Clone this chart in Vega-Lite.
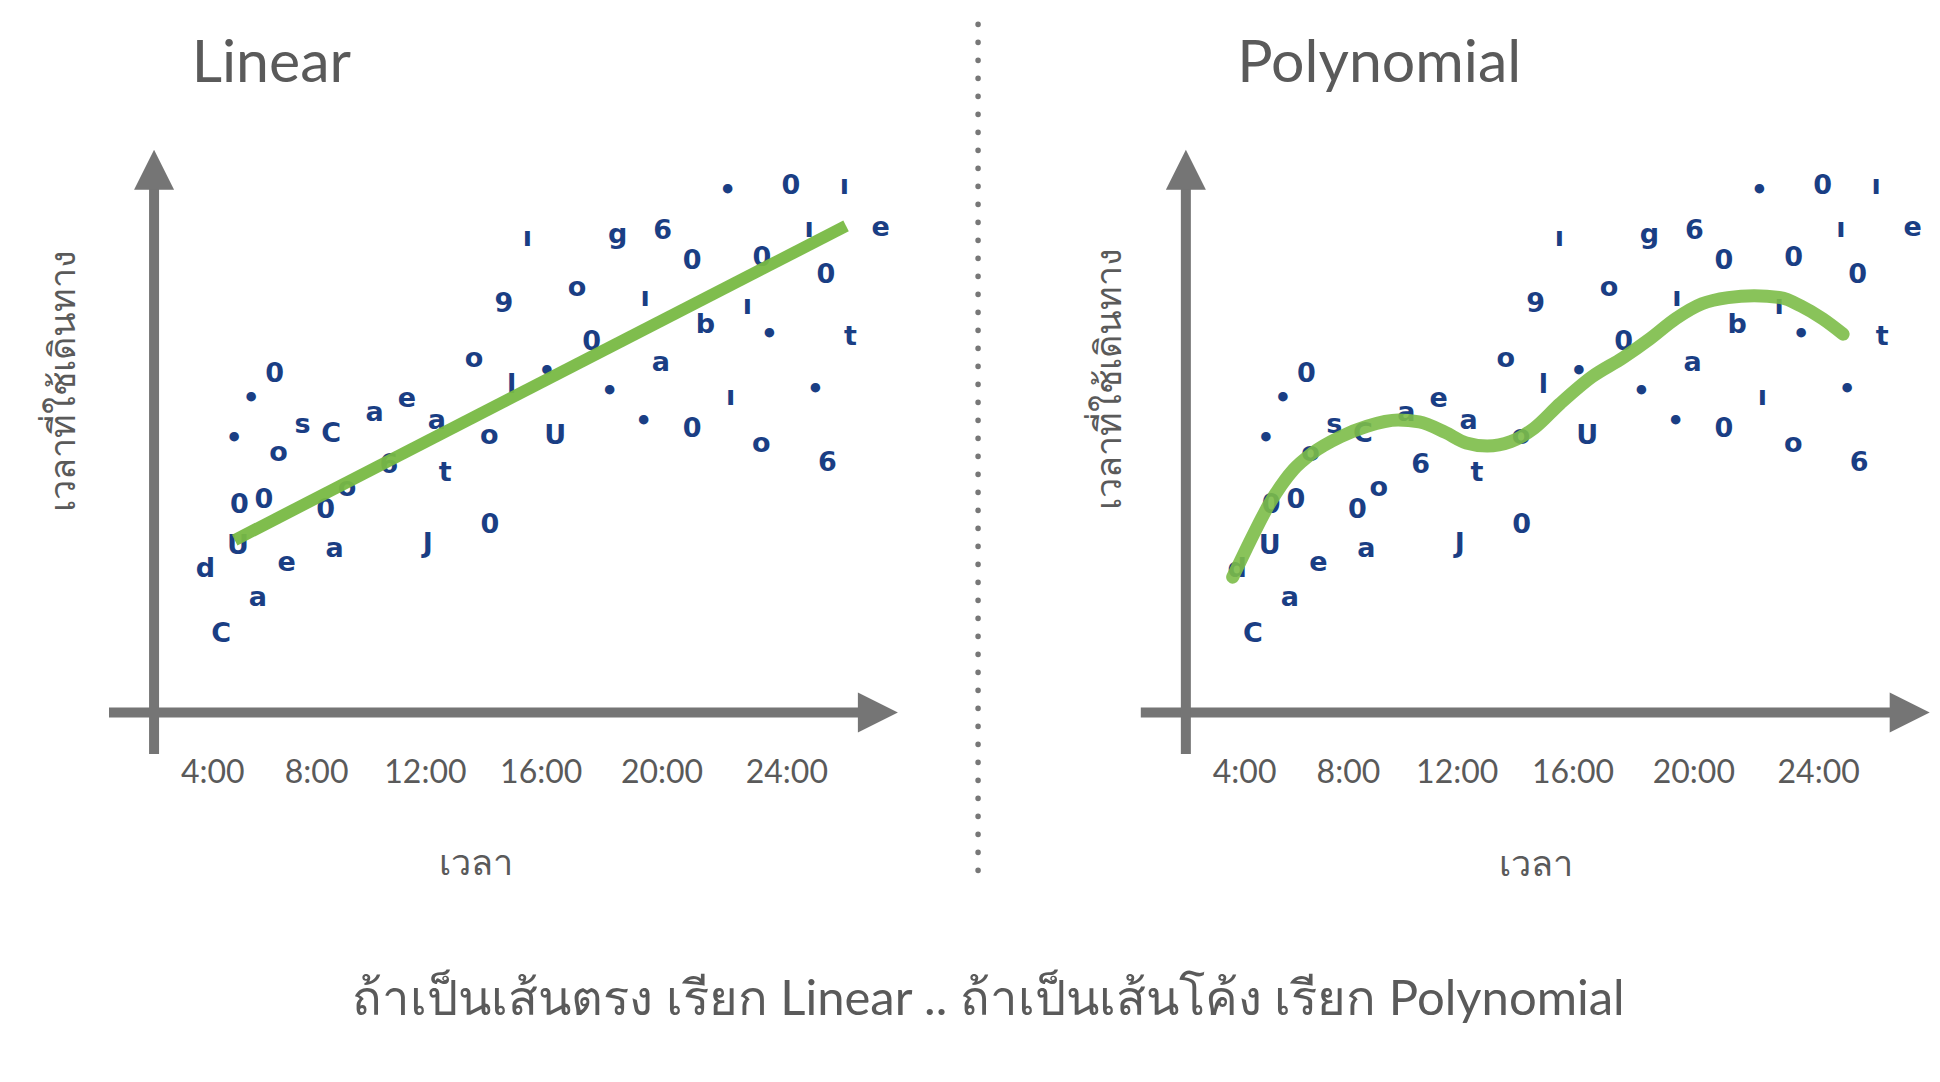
{
  "$schema": "https://vega.github.io/schema/vega-lite/v6.json",
  "background": "#ffffff",
  "padding": {"left": 44, "top": 13, "right": 4, "bottom": 4},
  "config": {"view": {"stroke": null}, "font": "Lato"},
  "bounds": "flush",
  "spacing": 240.8,
  "title": {
    "text": "ถ้าเป็นเส้นตรง เรียก Linear .. ถ้าเป็นเส้นโค้ง เรียก Polynomial",
    "orient": "bottom",
    "anchor": "middle",
    "baseline": "alphabetic",
    "offset": 116,
    "fontSize": 49,
    "font": "Lato",
    "fontWeight": "normal",
    "color": "#5a5a5a"
  },
  "datasets": {
    "pts": [
      {"h": 21.95, "t": 84.3, "g": "•"},
      {"h": 24.16, "t": 85.1, "g": "0"},
      {"h": 26.02, "t": 85.1, "g": "ı"},
      {"h": 14.98, "t": 76.7, "g": "ı"},
      {"h": 18.12, "t": 77.2, "g": "g"},
      {"h": 19.69, "t": 77.9, "g": "6"},
      {"h": 24.79, "t": 78.2, "g": "ı"},
      {"h": 27.29, "t": 78.4, "g": "e"},
      {"h": 20.72, "t": 73.1, "g": "0"},
      {"h": 23.15, "t": 73.5, "g": "0"},
      {"h": 25.38, "t": 70.8, "g": "0"},
      {"h": 16.71, "t": 68.6, "g": "o"},
      {"h": 14.16, "t": 66.0, "g": "9"},
      {"h": 19.08, "t": 67.0, "g": "ı"},
      {"h": 22.64, "t": 65.8, "g": "ı"},
      {"h": 21.18, "t": 62.6, "g": "b"},
      {"h": 23.41, "t": 61.1, "g": "•"},
      {"h": 26.23, "t": 60.8, "g": "t"},
      {"h": 17.22, "t": 60.0, "g": "0"},
      {"h": 13.12, "t": 57.2, "g": "o"},
      {"h": 19.63, "t": 56.6, "g": "a"},
      {"h": 6.17, "t": 54.8, "g": "0"},
      {"h": 15.66, "t": 55.1, "g": "•"},
      {"h": 14.43, "t": 52.9, "g": "l"},
      {"h": 5.35, "t": 50.7, "g": "•"},
      {"h": 17.84, "t": 51.9, "g": "•"},
      {"h": 22.06, "t": 51.1, "g": "ı"},
      {"h": 25.01, "t": 52.1, "g": "•"},
      {"h": 10.78, "t": 50.7, "g": "e"},
      {"h": 9.65, "t": 48.4, "g": "a"},
      {"h": 7.14, "t": 46.5, "g": "s"},
      {"h": 11.82, "t": 47.2, "g": "a"},
      {"h": 19.03, "t": 47.0, "g": "•"},
      {"h": 4.76, "t": 44.3, "g": "•"},
      {"h": 8.14, "t": 45.0, "g": "C"},
      {"h": 13.65, "t": 44.7, "g": "o"},
      {"h": 15.95, "t": 44.7, "g": "U"},
      {"h": 20.72, "t": 45.9, "g": "0"},
      {"h": 6.31, "t": 42.0, "g": "o"},
      {"h": 23.13, "t": 43.5, "g": "o"},
      {"h": 10.15, "t": 40.0, "g": "6"},
      {"h": 12.11, "t": 38.7, "g": "t"},
      {"h": 25.43, "t": 40.3, "g": "6"},
      {"h": 8.69, "t": 36.3, "g": "o"},
      {"h": 4.94, "t": 33.6, "g": "0"},
      {"h": 5.80, "t": 34.4, "g": "0"},
      {"h": 7.95, "t": 32.8, "g": "0"},
      {"h": 13.67, "t": 30.4, "g": "0"},
      {"h": 4.89, "t": 26.9, "g": "U"},
      {"h": 3.76, "t": 23.2, "g": "d"},
      {"h": 6.59, "t": 24.2, "g": "e"},
      {"h": 8.26, "t": 26.4, "g": "a"},
      {"h": 11.51, "t": 27.2, "g": "J"},
      {"h": 5.59, "t": 18.5, "g": "a"},
      {"h": 4.31, "t": 12.7, "g": "C"}
    ],
    "lin": [
      {"h": 4.78, "t": 27.9},
      {"h": 26.08, "t": 78.7}
    ],
    "poly": [
      {"h": 3.60, "t": 21.9},
      {"h": 4.08, "t": 26.5},
      {"h": 4.90, "t": 33.9},
      {"h": 5.72, "t": 39.3},
      {"h": 6.36, "t": 41.9},
      {"h": 7.36, "t": 44.6},
      {"h": 8.28, "t": 46.3},
      {"h": 9.37, "t": 47.3},
      {"h": 10.10, "t": 47.0},
      {"h": 11.01, "t": 45.3},
      {"h": 11.74, "t": 43.6},
      {"h": 12.47, "t": 43.1},
      {"h": 13.29, "t": 43.8},
      {"h": 14.11, "t": 46.0},
      {"h": 15.02, "t": 50.0},
      {"h": 16.12, "t": 54.3},
      {"h": 17.21, "t": 57.4},
      {"h": 18.13, "t": 60.4},
      {"h": 19.04, "t": 63.7},
      {"h": 19.95, "t": 66.1},
      {"h": 20.86, "t": 67.1},
      {"h": 21.77, "t": 67.4},
      {"h": 22.69, "t": 67.1},
      {"h": 23.42, "t": 65.7},
      {"h": 24.15, "t": 63.7},
      {"h": 24.87, "t": 61.2}
    ],
    "xshaft": [{"h": 0.4, "t": 0}, {"h": 26.6, "t": 0}],
    "yshaft": [{"h": 1.97, "t": -6.7}, {"h": 1.97, "t": 86}],
    "divider": [{"h": 30.68, "t": 111.3}, {"h": 30.68, "t": -28.3}],
    "arrowR": [{"h": 27.19, "t": 0}],
    "arrowU": [{"h": 1.97, "t": 87.8}]
  },
  "hconcat": [
    {
      "width": 791,
      "height": 606,
      "encoding": {
        "x": {
          "field": "h", "type": "quantitative",
          "scale": {"domain": [0.4, 27.96], "nice": false, "zero": false},
          "axis": {
            "values": [4, 8, 12, 16, 20, 24],
            "labelExpr": "datum.value + ':00'",
            "domain": false, "ticks": false, "grid": false,
            "labelFont": "Lato", "labelFontSize": 32, "labelColor": "#5a5a5a",
            "labelPadding": 3, "labelBaseline": "top", "labelFlush": false, "labelOverlap": false,
            "labelOffset": {"condition": [
              {"test": "datum.value == 8", "value": -11},
              {"test": "datum.value == 12", "value": -17},
              {"test": "datum.value == 16", "value": -16},
              {"test": "datum.value == 20", "value": -10}
            ], "value": 0},
            "title": "เวลา", "titleFont": "Noto Sans", "titleFontSize": 36, "titleFontWeight": "normal", "titleColor": "#5a5a5a",
            "titleX": 366, "titleY": 109, "titleAlign": "center", "titleBaseline": "middle"
          }
        },
        "y": {
          "field": "t", "type": "quantitative",
          "scale": {"domain": [-6.7, 91.3], "nice": false, "zero": false},
          "axis": {
            "labels": false, "domain": false, "ticks": false, "grid": false,
            "title": "เวลาที่ใช้เดินทาง", "titleFont": "Noto Sans", "titleFontSize": 36, "titleFontWeight": "normal", "titleColor": "#5a5a5a",
            "titleAngle": 270, "titleX": -35, "titleY": 232, "titleAlign": "center", "titleBaseline": "alphabetic"
          }
        }
      },
      "layer": [
        {
          "data": {"name": "divider"},
          "mark": {"type": "line", "color": "#777777", "strokeWidth": 5.5, "strokeCap": "round", "strokeDash": [0.1, 17.9], "clip": false}
        },
        {
          "data": {"name": "xshaft"},
          "mark": {"type": "line", "color": "#757575", "strokeWidth": 10, "strokeCap": "butt"}
        },
        {
          "data": {"name": "yshaft"},
          "mark": {"type": "line", "color": "#757575", "strokeWidth": 10, "strokeCap": "butt"}
        },
        {
          "data": {"name": "arrowR"},
          "mark": {"type": "point", "shape": "M-1,-1L1,0L-1,1Z", "size": 1600, "filled": true, "color": "#757575", "opacity": 1, "strokeWidth": 0}
        },
        {
          "data": {"name": "arrowU"},
          "mark": {"type": "point", "shape": "M-1,1L0,-1L1,1Z", "size": 1600, "filled": true, "color": "#757575", "opacity": 1, "strokeWidth": 0}
        },
        {
          "data": {"name": "pts"},
          "mark": {"type": "text", "font": "DejaVu Sans", "fontWeight": "bold", "fontSize": 27, "color": "#1a3e84", "align": "center", "baseline": "middle"},
          "encoding": {"text": {"field": "g"}}
        },
        {
          "data": {"name": "lin"},
          "mark": {"type": "line", "color": "#78b943", "strokeWidth": 12, "strokeCap": "butt", "opacity": 0.95}
        },
        {
          "data": {"values": [{"h": 3.28, "t": 102.0, "label": "Linear"}]},
          "mark": {"type": "text", "align": "left", "baseline": "alphabetic", "fontSize": 59, "font": "Lato", "color": "#5a5a5a", "clip": false},
          "encoding": {"text": {"field": "label"}}
        }
      ]
    },
    {
      "width": 791,
      "height": 606,
      "encoding": {
        "x": {
          "field": "h", "type": "quantitative",
          "scale": {"domain": [0.4, 27.96], "nice": false, "zero": false},
          "axis": {
            "values": [4, 8, 12, 16, 20, 24],
            "labelExpr": "datum.value + ':00'",
            "domain": false, "ticks": false, "grid": false,
            "labelFont": "Lato", "labelFontSize": 32, "labelColor": "#5a5a5a",
            "labelPadding": 3, "labelBaseline": "top", "labelFlush": false, "labelOverlap": false,
            "labelOffset": {"condition": [
              {"test": "datum.value == 8", "value": -11},
              {"test": "datum.value == 12", "value": -17},
              {"test": "datum.value == 16", "value": -16},
              {"test": "datum.value == 20", "value": -10}
            ], "value": 0},
            "title": "เวลา", "titleFont": "Noto Sans", "titleFontSize": 36, "titleFontWeight": "normal", "titleColor": "#5a5a5a",
            "titleX": 395, "titleY": 110, "titleAlign": "center", "titleBaseline": "middle"
          }
        },
        "y": {
          "field": "t", "type": "quantitative",
          "scale": {"domain": [-6.7, 91.3], "nice": false, "zero": false},
          "axis": {
            "labels": false, "domain": false, "ticks": false, "grid": false,
            "title": "เวลาที่ใช้เดินทาง", "titleFont": "Noto Sans", "titleFontSize": 36, "titleFontWeight": "normal", "titleColor": "#5a5a5a",
            "titleAngle": 270, "titleX": -20, "titleY": 230, "titleAlign": "center", "titleBaseline": "alphabetic"
          }
        }
      },
      "layer": [
        {
          "data": {"name": "xshaft"},
          "mark": {"type": "line", "color": "#757575", "strokeWidth": 10, "strokeCap": "butt"}
        },
        {
          "data": {"name": "yshaft"},
          "mark": {"type": "line", "color": "#757575", "strokeWidth": 10, "strokeCap": "butt"}
        },
        {
          "data": {"name": "arrowR"},
          "mark": {"type": "point", "shape": "M-1,-1L1,0L-1,1Z", "size": 1600, "filled": true, "color": "#757575", "opacity": 1, "strokeWidth": 0}
        },
        {
          "data": {"name": "arrowU"},
          "mark": {"type": "point", "shape": "M-1,1L0,-1L1,1Z", "size": 1600, "filled": true, "color": "#757575", "opacity": 1, "strokeWidth": 0}
        },
        {
          "data": {"name": "pts"},
          "mark": {"type": "text", "font": "DejaVu Sans", "fontWeight": "bold", "fontSize": 27, "color": "#1a3e84", "align": "center", "baseline": "middle"},
          "encoding": {"text": {"field": "g"}}
        },
        {
          "data": {"name": "poly"},
          "mark": {"type": "line", "color": "#7cbd48", "strokeWidth": 13, "strokeCap": "round", "strokeJoin": "round", "interpolate": "monotone", "opacity": 0.9}
        },
        {
          "data": {"values": [{"h": 3.76, "t": 102.0, "label": "Polynomial"}]},
          "mark": {"type": "text", "align": "left", "baseline": "alphabetic", "fontSize": 59, "font": "Lato", "color": "#5a5a5a", "clip": false},
          "encoding": {"text": {"field": "label"}}
        }
      ]
    }
  ]
}
